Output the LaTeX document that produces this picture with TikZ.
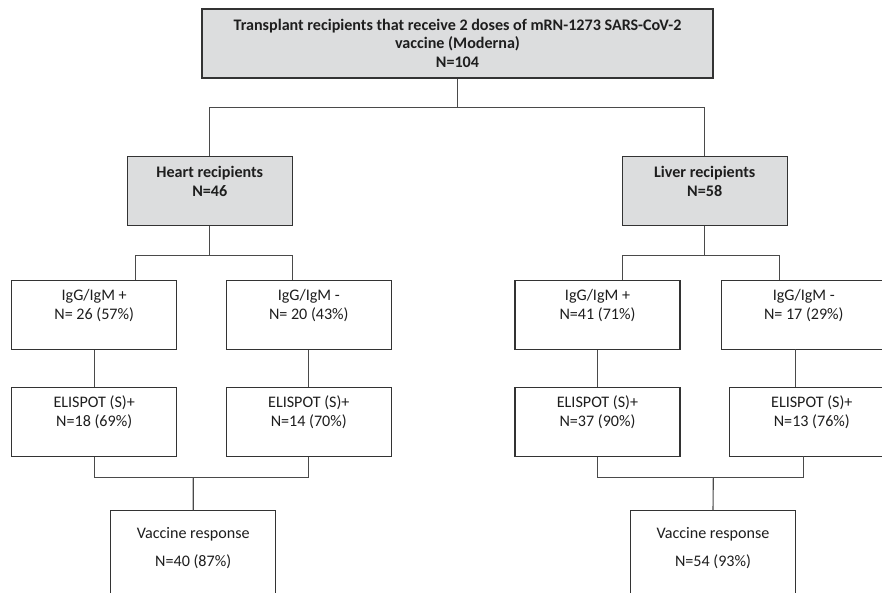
\documentclass[tikz,border=0pt]{standalone}
\usepackage{fontspec}
\setmainfont{Carlito}
\definecolor{bc}{HTML}{333333}
\definecolor{lc}{HTML}{4A4A4A}
\definecolor{gf}{HTML}{DCDDDE}
\definecolor{txc}{HTML}{1E1E1E}
\begin{document}
\begin{tikzpicture}[x=1pt,y=-1pt,
  wbox/.style={draw=bc, line width=1.1pt, fill=white, minimum width=165pt, minimum height=68.7pt, inner sep=0pt},
  gbox/.style={wbox, fill=gf},
  tx/.style={anchor=base, inner sep=0pt, text=txc, font=\fontsize{16.1}{18}\selectfont},
  tb/.style={tx, font=\fontsize{16.1}{18}\selectfont\bfseries},
  conn/.style={draw=lc, line width=1.1pt}]
\useasboundingbox (0,0) rectangle (882,593);
\clip (0,0) rectangle (882,593);
% boxes
\node[gbox, minimum width=511pt, minimum height=69pt] (top) at (457.5,43.5) {};
\node[gbox] (heart) at (209.8,191.3) {};
\node[gbox] (liver) at (704.7,191.3) {};
\node[wbox] (hp) at (94.2,314.7) {};
\node[wbox] (hn) at (308.8,314.7) {};
\node[wbox] (lp) at (597.5,314.7) {};
\node[wbox] (lneg) at (803.8,314.7) {};
\node[wbox] (hep) at (94.2,421.7) {};
\node[wbox] (hen) at (308.8,421.7) {};
\node[wbox] (lep) at (597.5,421.7) {};
\node[wbox] (len) at (811.8,421.7) {};
\node[wbox, minimum height=100pt, anchor=north] (hv) at (193.2,510.3) {};
\node[wbox, minimum height=100pt, anchor=north] (lv) at (713,510.3) {};
% texts
\node[tb] (t1) at (457.5,30.5) {Transplant recipients that receive 2 doses of mRN-1273 SARS-CoV-2};
\node[tb] (t2) at (457.5,49) {vaccine (Moderna)};
\node[tb] (t3) at (457.5,67.5) {N=104};
\node[tb] (th1) at (209.8,178) {Heart recipients};
\node[tb] (th2) at (209.8,196.5) {N=46};
\node[tb] (tl1) at (704.7,178) {Liver recipients};
\node[tb] (tl2) at (704.7,196.5) {N=58};
\node[tx] (thp1) at (94.2,300.5) {IgG/IgM +};
\node[tx] (thp2) at (94.2,319) {N= 26 (57\%)};
\node[tx] (thn1) at (308.8,300.5) {IgG/IgM -};
\node[tx] (thn2) at (308.8,319) {N= 20 (43\%)};
\node[tx] (tlp1) at (597.5,300.5) {IgG/IgM +};
\node[tx] (tlp2) at (597.5,319) {N=41 (71\%)};
\node[tx] (tln1) at (803.8,300.5) {IgG/IgM -};
\node[tx] (tln2) at (803.8,319) {N= 17 (29\%)};
\node[tx] (the1) at (94.2,407.5) {ELISPOT (S)+};
\node[tx] (the2) at (94.2,426.5) {N=18 (69\%)};
\node[tx] (thf1) at (308.8,407.5) {ELISPOT (S)+};
\node[tx] (thf2) at (308.8,426.5) {N=14 (70\%)};
\node[tx] (tle1) at (597.5,407.5) {ELISPOT (S)+};
\node[tx] (tle2) at (597.5,426.5) {N=37 (90\%)};
\node[tx] (tlf1) at (811.8,407.5) {ELISPOT (S)+};
\node[tx] (tlf2) at (811.8,426.5) {N=13 (76\%)};
\node[tx] (thv1) at (193.2,538) {Vaccine response};
\node[tx] (thv2) at (193.2,566) {N=40 (87\%)};
\node[tx] (tlv1) at (713,538) {Vaccine response};
\node[tx] (tlv2) at (713,566) {N=54 (93\%)};
% connectors
\coordinate (j0) at (457.5,107.7);
\draw[conn] (top.south) -- (j0);
\draw[conn] (heart.north) -- (heart.north |- j0) -- (liver.north |- j0) -- (liver.north);
\coordinate (j1) at (209.8,255.7);
\coordinate (a1) at (135.7,280.3);
\coordinate (a2) at (292.3,280.3);
\draw[conn] (heart.south) -- (j1);
\draw[conn] (a1) -- (a1 |- j1) -- (a2 |- j1) -- (a2);
\coordinate (j2) at (704.7,255.7);
\coordinate (a3) at (622.3,280.3);
\coordinate (a4) at (779.3,280.3);
\draw[conn] (liver.south) -- (j2);
\draw[conn] (a3) -- (a3 |- j2) -- (a4 |- j2) -- (a4);
\draw[conn] (hp) -- (hep);
\draw[conn] (hn) -- (hen);
\draw[conn] (lp) -- (lep);
\coordinate (b4) at (795.7,349);
\draw[conn] (b4) -- (b4 |- len.north);
\coordinate (j3) at (193.3,477.3);
\draw[conn] (hep.south) -- (hep.south |- j3) -- (hen.south |- j3) -- (hen.south);
\draw[conn] (j3) -- (hv.north);
\coordinate (j4) at (713.3,477.3);
\coordinate (c4) at (803.7,456);
\draw[conn] (lep.south) -- (lep.south |- j4) -- (c4 |- j4) -- (c4);
\draw[conn] (j4) -- (lv.north);
\end{tikzpicture}
\end{document}
